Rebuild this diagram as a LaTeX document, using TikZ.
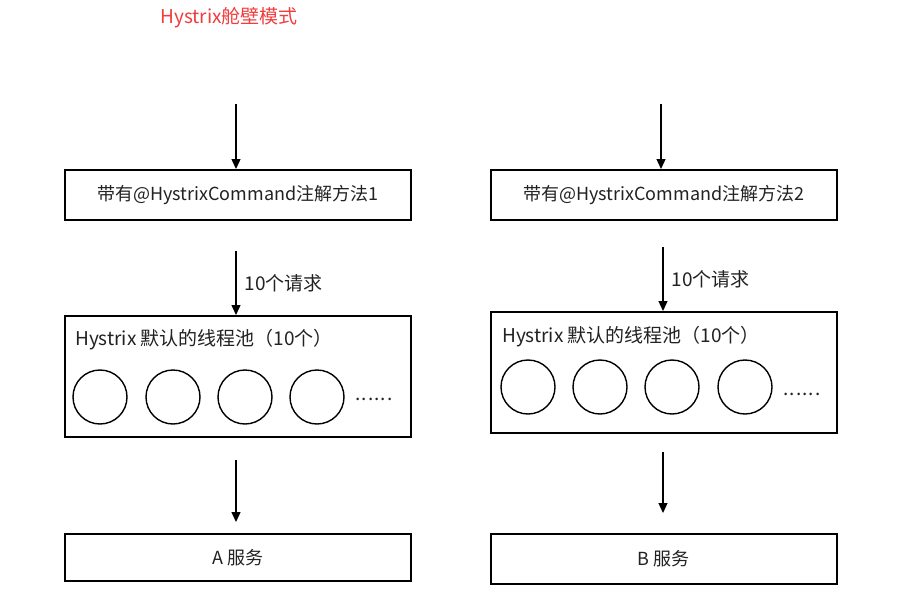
\documentclass[tikz,border=0pt]{standalone}
\usepackage{fontspec}
\setmainfont{Noto Sans CJK SC}
\usetikzlibrary{arrows.meta}
\definecolor{titlered}{HTML}{F03C3C}
\definecolor{txt}{HTML}{222222}
\begin{document}
\begin{tikzpicture}[x=1pt,y=-1pt,
  box/.style={draw=black,line width=1.6pt,minimum width=346pt,inner sep=0pt,anchor=north west,fill=white},
  slot/.style={draw=black,line width=1.4pt,circle,minimum size=54pt,inner sep=0pt},
  arr/.style={line width=1.3pt,-{Triangle[length=10pt,width=9pt]}},
  lbl/.style={font=\fontsize{19}{22}\selectfont,text=txt,inner sep=0pt},
  boxlbl/.style={font=\fontsize{18}{21}\selectfont,text=txt}]
\useasboundingbox (0,0) rectangle (919,597);
\node[font=\fontsize{19}{22}\selectfont,text=titlered,inner sep=0pt] (title) at (229,18) {Hystrix舱壁模式};
% left column
\coordinate (s1) at (236,104);
\node[box,minimum height=50pt,boxlbl] (m1) at (64,169) {带有@HystrixCommand注解方法1};
\node[box,minimum height=121pt] (p1) at (64,315) {};
\node[lbl,anchor=west] (p1t) at (75,340) {Hystrix 默认的线程池（10个）};
\node[slot] (c11) at (100,397) {};
\node[slot] (c12) at (173,397) {};
\node[slot] (c13) at (245,397) {};
\node[slot] (c14) at (317,397) {};
\node[lbl,anchor=west] (d1) at (355,399) {\addfontfeature{LetterSpace=6}......};
\coordinate (e1) at (236,460);
\node[box,minimum height=47pt,boxlbl] (a) at (64,533) {A 服务};
\draw[arr] (s1) -- (m1.north -| s1);
\draw[arr] (236,251) coordinate (r1) -- (p1.north -| r1) node[lbl,midway,right=8pt] (q1) {10个请求};
\draw[arr] (e1) -- ([yshift=11pt]a.north -| e1);
% right column
\coordinate (s2) at (661,104);
\node[box,minimum height=50pt,boxlbl] (m2) at (490,169) {带有@HystrixCommand注解方法2};
\node[box,minimum height=121pt] (p2) at (490,311) {};
\node[lbl,anchor=west] (p2t) at (502,337) {Hystrix 默认的线程池（10个）};
\node[slot] (c21) at (528,387) {};
\node[slot] (c22) at (600,387) {};
\node[slot] (c23) at (672,387) {};
\node[slot] (c24) at (745,387) {};
\node[lbl,anchor=west] (d2) at (783,394) {\addfontfeature{LetterSpace=6}......};
\coordinate (e2) at (663,452);
\node[box,minimum height=50pt,boxlbl] (b) at (490,533) {B 服务};
\draw[arr] (s2) -- (m2.north -| s2);
\draw[arr] (663,247) coordinate (r2) -- (p2.north -| r2) node[lbl,midway,right=8pt] (q2) {10个请求};
\draw[arr] (e2) -- ([yshift=20pt]b.north -| e2);
\end{tikzpicture}
\end{document}
